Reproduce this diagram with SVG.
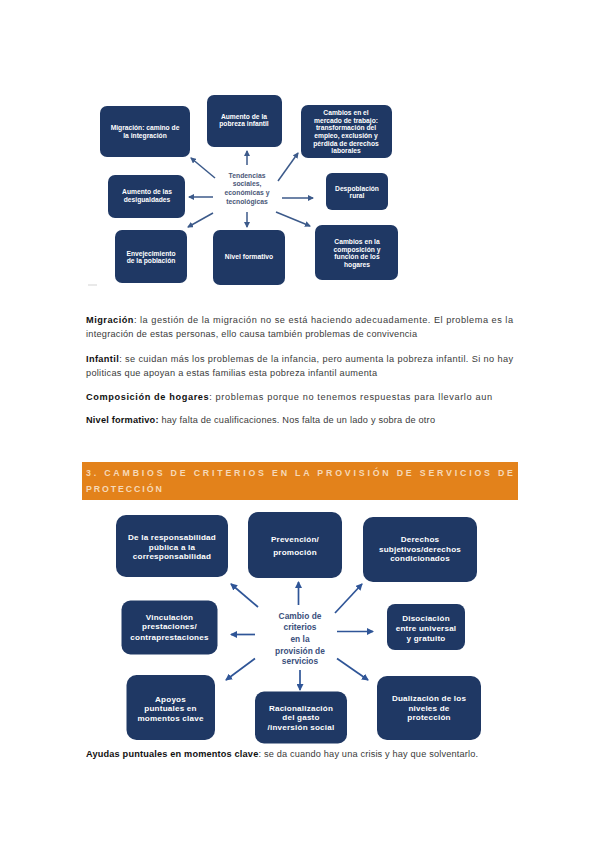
<svg xmlns="http://www.w3.org/2000/svg" width="599" height="848" viewBox="0 0 599 848">
<style>
.bx{fill:#1f3864;}
.t1{font-family:"Liberation Sans",Arial,sans-serif;font-weight:bold;font-size:6.7px;fill:#ffffff;text-anchor:middle;}
.t2{font-family:"Liberation Sans",Arial,sans-serif;font-weight:bold;font-size:8.1px;fill:#ffffff;text-anchor:middle;letter-spacing:0.2px;}
.c1{font-family:"Liberation Sans",Arial,sans-serif;font-weight:bold;font-size:6.8px;fill:#4b5878;text-anchor:middle;}
.c2{font-family:"Liberation Sans",Arial,sans-serif;font-weight:bold;font-size:8.4px;fill:#3b507c;text-anchor:middle;}
.a1{stroke:#3c5a8a;stroke-width:1.5;fill:none;marker-end:url(#h1);}
.a2{stroke:#2f5597;stroke-width:1.7;fill:none;marker-end:url(#h2);}
.p{font-family:"Liberation Sans",Arial,sans-serif;font-size:9.2px;fill:#3a3a3a;}
.pb{font-weight:bold;fill:#111111;}
.ban{font-family:"Liberation Sans",Arial,sans-serif;font-weight:bold;font-size:8.8px;fill:#f6d9b8;}
</style>
<defs>
<marker id="h1" markerUnits="userSpaceOnUse" markerWidth="6" markerHeight="6" refX="5" refY="3" orient="auto"><path d="M0,0 L6,3 L0,6 z" fill="#3c5a8a"/></marker>
<marker id="h2" markerUnits="userSpaceOnUse" markerWidth="7" markerHeight="7" refX="6" refY="3.5" orient="auto"><path d="M0,0 L7,3.5 L0,7 z" fill="#2f5597"/></marker>
</defs>
<rect width="599" height="848" fill="#ffffff"/>

<!-- Top diagram -->
<g id="top-connectors">
<line class="a1" x1="247" y1="165" x2="247" y2="151"/>
<line class="a1" x1="247" y1="212" x2="247" y2="227"/>
<line class="a1" x1="215" y1="178" x2="191" y2="158"/>
<line class="a1" x1="213" y1="197" x2="189" y2="197"/>
<line class="a1" x1="213" y1="213" x2="188" y2="227"/>
<line class="a1" x1="278" y1="181" x2="298" y2="153"/>
<line class="a1" x1="282" y1="198" x2="313" y2="198"/>
<line class="a1" x1="276" y1="212" x2="310" y2="226"/>
</g>
<g id="t-center">
<text class="c1" x="247" y="177.5">Tendencias</text>
<text class="c1" x="247" y="185.5">sociales,</text>
<text class="c1" x="247" y="195">económicas y</text>
<text class="c1" x="247" y="203.5">tecnológicas</text>
</g>
<g id="t-migracion">
<rect class="bx" x="100" y="106" width="90" height="51" rx="7"/>
<text class="t1" x="145" y="129.5">Migración: camino de</text>
<text class="t1" x="145" y="137.5">la integración</text>
</g>
<g id="t-pobreza">
<rect class="bx" x="207" y="95" width="75" height="52" rx="7"/>
<text class="t1" x="244" y="118.5">Aumento de la</text>
<text class="t1" x="244" y="126">pobreza infantil</text>
</g>
<g id="t-mercado">
<rect class="bx" x="301" y="105" width="91" height="53" rx="7"/>
<text class="t1" x="346" y="115">Cambios en el</text>
<text class="t1" x="346" y="122.5">mercado de trabajo:</text>
<text class="t1" x="346" y="130">transformación del</text>
<text class="t1" x="346" y="137.8">empleo, exclusión y</text>
<text class="t1" x="346" y="145.5">pérdida de derechos</text>
<text class="t1" x="346" y="153.3">laborales</text>
</g>
<g id="t-despoblacion">
<rect class="bx" x="326" y="173" width="62" height="37" rx="6"/>
<text class="t1" x="357" y="190.8">Despoblación</text>
<text class="t1" x="357" y="197.8">rural</text>
</g>
<g id="t-hogares">
<rect class="bx" x="315" y="225" width="83" height="55" rx="7"/>
<text class="t1" x="357" y="244">Cambios en la</text>
<text class="t1" x="357" y="251.7">composición y</text>
<text class="t1" x="357" y="259.2">función de los</text>
<text class="t1" x="357" y="266.5">hogares</text>
</g>
<g id="t-nivel">
<rect class="bx" x="213" y="230" width="72" height="55" rx="7"/>
<text class="t1" x="249" y="259">Nivel formativo</text>
</g>
<g id="t-envejecimiento">
<rect class="bx" x="115" y="230" width="72" height="53" rx="7"/>
<text class="t1" x="151" y="255.7">Envejecimiento</text>
<text class="t1" x="151" y="263">de la población</text>
</g>
<g id="t-desigualdades">
<rect class="bx" x="108" y="175" width="77" height="43" rx="7"/>
<text class="t1" x="147" y="194">Aumento de las</text>
<text class="t1" x="147" y="201.7">desigualdades</text>
</g>
<line x1="88" y1="285" x2="97" y2="285" stroke="#c8c8c8" stroke-width="0.8"/>

<!-- Paragraphs -->
<text class="p" x="86" y="322.5" textLength="427" lengthAdjust="spacing"><tspan class="pb">Migración</tspan>: la gestión de la migración no se está haciendo adecuadamente. El problema es la</text>
<text class="p" x="86" y="337" textLength="331" lengthAdjust="spacing">integración de estas personas, ello causa también problemas de convivencia</text>
<text class="p" x="86" y="361.5" textLength="427" lengthAdjust="spacing"><tspan class="pb">Infantil</tspan>: se cuidan más los problemas de la infancia, pero aumenta la pobreza infantil. Si no hay</text>
<text class="p" x="86" y="376" textLength="291" lengthAdjust="spacing">politicas que apoyan a estas familias esta pobreza infantil aumenta</text>
<text class="p" x="86" y="400" textLength="406" lengthAdjust="spacing"><tspan class="pb">Composición de hogares</tspan>: problemas porque no tenemos respuestas para llevarlo aun</text>
<text class="p" x="86" y="423.2" textLength="349" lengthAdjust="spacing"><tspan class="pb">Nivel formativo:</tspan> hay falta de cualificaciones. Nos falta de un lado y sobra de otro</text>

<!-- Banner -->
<rect x="82" y="462" width="436" height="38" fill="#e3821b"/>
<text class="ban" x="86" y="475.5" textLength="427" lengthAdjust="spacing">3.  CAMBIOS DE CRITERIOS EN LA PROVISIÓN DE SERVICIOS DE</text>
<text class="ban" x="86" y="491.5" letter-spacing="1.9">PROTECCIÓN</text>

<!-- Bottom diagram -->
<g id="bottom-connectors">
<line class="a2" x1="298.5" y1="605" x2="298.5" y2="582"/>
<line class="a2" x1="258" y1="607" x2="231" y2="584"/>
<line class="a2" x1="335" y1="613" x2="362" y2="584"/>
<line class="a2" x1="255" y1="634.5" x2="231" y2="634.5"/>
<line class="a2" x1="337" y1="631.5" x2="373" y2="631.5"/>
<line class="a2" x1="255" y1="658.5" x2="226" y2="680"/>
<line class="a2" x1="300" y1="670" x2="300" y2="690"/>
<line class="a2" x1="337" y1="658.5" x2="368" y2="680"/>
</g>
<g id="b-center">
<text class="c2" x="300" y="619">Cambio de</text>
<text class="c2" x="300" y="630.3">criterios</text>
<text class="c2" x="300" y="642.3">en la</text>
<text class="c2" x="300" y="653.7">provisión de</text>
<text class="c2" x="300" y="664">servicios</text>
</g>
<g id="b-responsabilidad">
<rect class="bx" x="116" y="515" width="112" height="62" rx="10"/>
<text class="t2" x="172" y="539.5">De la responsabilidad</text>
<text class="t2" x="172" y="549.5">pública a la</text>
<text class="t2" x="172" y="558.5">corresponsabilidad</text>
</g>
<g id="b-prevencion">
<rect class="bx" x="248" y="512" width="94" height="66" rx="10"/>
<text class="t2" x="295" y="542">Prevención/</text>
<text class="t2" x="295" y="554.5">promoción</text>
</g>
<g id="b-derechos">
<rect class="bx" x="363" y="517" width="114" height="65" rx="10"/>
<text class="t2" x="420" y="542">Derechos</text>
<text class="t2" x="420" y="552">subjetivos/derechos</text>
<text class="t2" x="420" y="561">condicionados</text>
</g>
<g id="b-disociacion">
<rect class="bx" x="387" y="604" width="78" height="46" rx="8"/>
<text class="t2" x="426" y="620.5">Disociación</text>
<text class="t2" x="426" y="630.5">entre universal</text>
<text class="t2" x="426" y="640.5">y gratuito</text>
</g>
<g id="b-dualizacion">
<rect class="bx" x="377" y="676" width="104" height="64" rx="10"/>
<text class="t2" x="429" y="701">Dualización de los</text>
<text class="t2" x="429" y="710.5">niveles de</text>
<text class="t2" x="429" y="720">protección</text>
</g>
<g id="b-vinculacion">
<rect class="bx" x="121.5" y="600.5" width="96" height="54" rx="9"/>
<text class="t2" x="169.5" y="620">Vinculación</text>
<text class="t2" x="169.5" y="629">prestaciones/</text>
<text class="t2" x="169.5" y="639.5">contraprestaciones</text>
</g>
<g id="b-apoyos">
<rect class="bx" x="126.5" y="675" width="88.5" height="65" rx="10"/>
<text class="t2" x="170.5" y="702">Apoyos</text>
<text class="t2" x="170.5" y="711">puntuales en</text>
<text class="t2" x="170.5" y="720.5">momentos clave</text>
</g>
<g id="b-racionalizacion">
<rect class="bx" x="255" y="691.5" width="92" height="52" rx="9"/>
<text class="t2" x="301" y="711">Racionalización</text>
<text class="t2" x="301" y="720">del  gasto</text>
<text class="t2" x="301" y="730">/inversión social</text>
</g>

<text class="p" x="86" y="756.5" textLength="392" lengthAdjust="spacing"><tspan class="pb">Ayudas puntuales en momentos clave</tspan>: se da cuando hay una crisis y hay que solventarlo.</text>
</svg>
